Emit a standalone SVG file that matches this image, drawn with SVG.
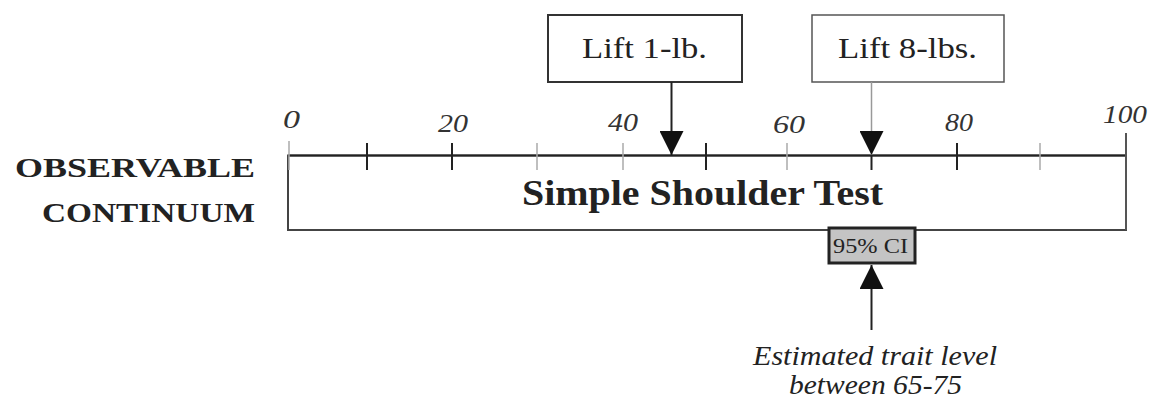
<svg xmlns="http://www.w3.org/2000/svg" width="1155" height="400" viewBox="0 0 1155 400">
<style>
text{font-family:"Liberation Serif","Times New Roman",serif;fill:#222}
.ax{font-style:italic;font-size:25px;fill:#333}
.lbl{font-size:30px}
.side{font-weight:bold;font-size:28px}
.est{font-style:italic;font-size:27px}
.tk{stroke:#222;stroke-width:2}
.tkl{stroke:#aaa;stroke-width:1.5}
</style>
<defs>
<marker id="ah" viewBox="0 0 10 10" refX="10" refY="5" markerWidth="24" markerHeight="24" markerUnits="userSpaceOnUse" orient="auto">
<path d="M0,0 L10,5 L0,10 z" fill="#111"/>
</marker>
</defs>
<rect width="1155" height="400" fill="#fff"/>
<g id="continuum">
<rect x="288" y="155.5" width="838" height="74.5" fill="none" stroke="#444" stroke-width="2"/>
<line x1="288" y1="155.5" x2="1126" y2="155.5" stroke="#222" stroke-width="2.2"/>
<line x1="289" y1="141" x2="289" y2="170" class="tkl"/>
<line x1="367" y1="143" x2="367" y2="170" class="tk"/>
<line x1="452" y1="143" x2="452" y2="170" class="tk"/>
<line x1="537" y1="143" x2="537" y2="170" class="tkl"/>
<line x1="623" y1="143" x2="623" y2="170" class="tkl"/>
<line x1="706" y1="143" x2="706" y2="170" class="tk"/>
<line x1="787" y1="143" x2="787" y2="170" class="tkl"/>
<line x1="957" y1="143" x2="957" y2="170" class="tk"/>
<line x1="1040" y1="143" x2="1040" y2="170" class="tkl"/>
<line x1="1126" y1="133" x2="1126" y2="230" stroke="#555" stroke-width="2"/>
<text x="283" y="128" class="ax" textLength="17" lengthAdjust="spacingAndGlyphs">0</text>
<text x="438" y="132" class="ax" textLength="30" lengthAdjust="spacingAndGlyphs">20</text>
<text x="608" y="131" class="ax" textLength="30" lengthAdjust="spacingAndGlyphs">40</text>
<text x="773" y="133" class="ax" textLength="32" lengthAdjust="spacingAndGlyphs">60</text>
<text x="945" y="131" class="ax" textLength="28" lengthAdjust="spacingAndGlyphs">80</text>
<text x="1103" y="123" class="ax" textLength="44" lengthAdjust="spacingAndGlyphs">100</text>
<text x="522" y="205" font-weight="bold" font-size="35" textLength="361" lengthAdjust="spacingAndGlyphs">Simple Shoulder Test</text>
</g>
<g id="side-label">
<text x="15" y="177" class="side" textLength="240" lengthAdjust="spacingAndGlyphs">OBSERVABLE</text>
<text x="42" y="222" class="side" textLength="213" lengthAdjust="spacingAndGlyphs">CONTINUUM</text>
</g>
<g id="lift1">
<rect x="548" y="15" width="194" height="67" fill="#fff" stroke="#333" stroke-width="2"/>
<text x="582" y="58" class="lbl" textLength="125" lengthAdjust="spacingAndGlyphs">Lift 1-lb.</text>
</g>
<g id="lift8">
<rect x="812" y="15" width="192" height="67" fill="#fff" stroke="#555" stroke-width="1.5"/>
<text x="838" y="58" class="lbl" textLength="139" lengthAdjust="spacingAndGlyphs">Lift 8-lbs.</text>
</g>
<g id="ci">
<rect x="829" y="228" width="86" height="35" fill="#c4c4c4" stroke="#222" stroke-width="3"/>
<text x="833" y="253" font-size="20" fill="#333" textLength="75" lengthAdjust="spacingAndGlyphs">95% CI</text>
</g>
<g id="estimate">
<text x="753" y="365" class="est" textLength="244" lengthAdjust="spacingAndGlyphs">Estimated trait level</text>
<text x="789" y="394" class="est" textLength="173" lengthAdjust="spacingAndGlyphs">between 65-75</text>
</g>
<g id="connectors">
<line x1="671.5" y1="82" x2="671.5" y2="155" stroke="#222" stroke-width="2" marker-end="url(#ah)"/>
<line x1="871.5" y1="82" x2="871.5" y2="155" stroke="#999" stroke-width="1.5" marker-end="url(#ah)"/>
<line x1="871.5" y1="155" x2="871.5" y2="170" stroke="#222" stroke-width="2"/>
<line x1="871.5" y1="330" x2="871.5" y2="265" stroke="#222" stroke-width="2" marker-end="url(#ah)"/>
</g>
</svg>
